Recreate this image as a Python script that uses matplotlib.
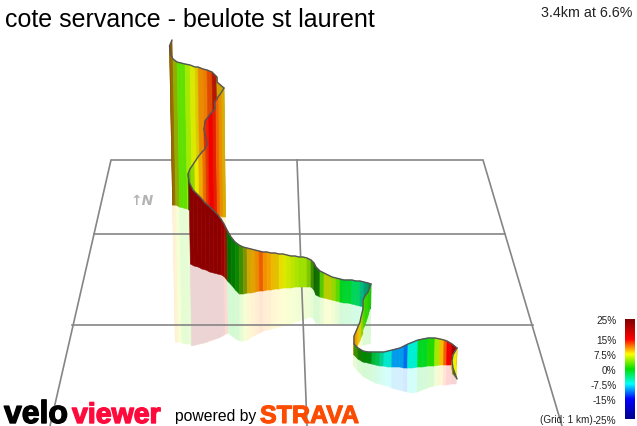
import numpy as np
import matplotlib
matplotlib.use('Agg')
import matplotlib.pyplot as plt
import matplotlib.patheffects as pe
from matplotlib.collections import PolyCollection
from matplotlib.colors import LinearSegmentedColormap, Normalize

# chart text
title = 'cote servance - beulote st laurent'
summary = '3.4km at 6.6%'
grid_note = '(Grid: 1 km)'

# gradient scale
scale_ticks = [25, 15, 7.5, 0, -7.5, -15, -25]
scale_labels = ['25%', '15%', '7.5%', '0%', '-7.5%', '-15%', '-25%']
scale_grades = [-25, -15, -7.5, 0, 7.5, 15, 25]
scale_colors = ['#00008b', '#0000ff', '#00ffff', '#00e000', '#ffff00', '#ff0000', '#800000']

# ground grid
grid_x = [[50, 111, 483, 562], [94, 505], [72, 533], [297, 307]]
grid_y = [[427, 161, 161, 427], [235, 235], [326, 326], [161, 427]]

# ribbon pieces, back to front: screen x, top edge, foot of wall, foot of reflection
s1_x = [172, 169.5, 170.5, 173, 177, 181, 185, 190, 195, 198, 203, 207, 212, 217, 217, 224]
s1_top = [41, 47, 55, 60, 63, 64, 65, 66, 68, 68, 70, 71, 73, 78, 83, 89]
s1_base = [206, 206, 206, 206, 208, 209, 210, 210, 211, 212, 213, 214, 215, 216, 216, 218]
s1_ground = [343, 343, 343, 343, 344, 345, 345, 345, 345, 345, 343, 342, 340, 338, 338, 335]
s1_grade = [10, 10, 9.5, 6, 3, 3, 5, 7, 8, 10.5, 11, 12.5, 14, 9, 9]
s1_shade = [.55, .55, .6, .7, .95, .95, .95, .92, .85, .92, .92, .88, .7, .8, .8]

s2_x = [224, 221, 218, 215, 215, 212, 208, 205, 204]
s2_top = [89, 94, 98, 103, 110, 113, 118, 122, 130]
s2_base = [218, 218, 217, 217, 216, 216, 215, 214, 214]
s2_ground = [335, 335, 336, 336, 337, 338, 339, 340, 340]
s2_grade = [9, 10.5, 12, 13, 14, 15, 14, 13]
s2_shade = [.85, .92, .95, .9, .9, .95, .95, .9]

s3_x = [204, 207, 205, 202, 198, 194, 190, 188, 189]
s3_top = [130, 145, 150, 153, 158, 164, 170, 175, 182]
s3_base = [214, 214, 213, 213, 212, 212, 211, 211, 211]
s3_ground = [340, 340, 341, 342, 343, 344, 345, 346, 346]
s3_grade = [13.5, 13, 11.5, 9.5, 7.5, 5, 3, 2]
s3_shade = [.9, .9, .92, .92, .92, .88, .8, .5]

s4_x = [189, 193, 197, 201, 205, 209, 213, 217, 221, 224, 227, 231, 235, 239, 243, 247, 251,
        255, 259, 263, 267, 271, 275, 279, 283, 287, 291, 295, 299, 303, 307, 311, 314, 316,
        320, 324, 328, 332, 336, 340, 344, 348, 352, 356, 360, 364, 368, 371]
s4_top = [183, 191, 195, 199, 204, 207, 211, 215, 220, 225, 231, 238, 243, 246, 248, 249, 250,
          251, 252, 253, 253, 254, 254, 255, 255, 256, 257, 257, 258, 258, 259, 261, 264, 268,
          272, 274, 276, 278, 279, 280, 281, 281, 281, 282, 282, 283, 284, 285]
s4_base = [265, 267, 268, 270, 271, 273, 274, 275, 276, 278, 282, 286, 291, 295, 295, 294, 294,
           293, 292, 292, 291, 291, 290, 290, 289, 289, 289, 288, 288, 288, 288, 288, 291, 296,
           298, 299, 300, 301, 302, 303, 304, 304, 305, 306, 307, 308, 309, 310]
s4_ground = [347, 346, 345, 344, 343, 341, 340, 339, 337, 335, 334, 337, 340, 342, 342, 341, 338,
             336, 334, 332, 331, 330, 329, 328, 327, 326, 325, 323, 322, 321, 319, 318, 320, 324,
             325, 325, 325, 325, 325, 325, 325, 325, 325, 327, 329, 332, 336, 338]
s4_grade = [23.5, 24, 23.5, 24, 23.5, 24, 23.5, 24, 22, 14, 0, 0, .5, 3, 6, 9, 9.5, 10.5, 12, 10.5, 10, 9,
            8.5, 8, 7, 6.5, 6, 5.5, 5, 5, 4.5, 3, 1, 1, 3, 6.5, 6.5, 5, 3, -1, -1.5, -1.5, -3, -3,
            -5, -5, -4]
s4_shade = [.95, 1, .97, 1, .97, 1, .97, 1, .95, .6, .5, .55, .6, .6, .6, .82, .88, .92, .92, .95, .95,
            .92, .88, .92, .92, .92, .92, .92, .92, .92, .82, .6, .45, .5, .85, .82, .82, .88, .92, .92, .92, .92, .9, .9,
            .75, .65, .6]

s5_x = [371, 368, 365, 363, 363, 361, 360, 357, 354, 354]
s5_top = [285, 293, 297, 301, 310, 318, 323, 330, 337, 345]
s5_base = [306, 318, 327, 331, 335, 339, 342, 348, 352, 356]
s5_ground = [345, 345, 346, 346, 346, 347, 348, 352, 358, 367]
s5_grade = [1, 1.5, 2, 3, 5, 7, 8.5, 10, 10]
s5_shade = [.9, .92, .92, .9, .85, .85, .9, .92, .9]

s6_x = [354, 358, 363, 368, 372, 376, 380, 384, 388, 392, 396, 400, 404, 408, 413, 418, 423, 428,
        435, 440, 444, 447, 452, 457]
s6_top = [345, 349, 352, 353, 353, 353, 353, 353, 352, 351, 350, 349, 347, 345, 343, 341, 340, 339,
          339, 340, 341, 342, 345, 349]
s6_base = [356, 360, 363, 364, 365, 366, 367, 367, 368, 368, 368, 368, 369, 369, 369, 368, 368, 367,
           367, 366, 366, 366, 366, 366]
s6_ground = [367, 372, 377, 380, 382, 384, 385, 386, 387, 389, 390, 391, 392, 393, 394, 393, 391, 389,
             387, 386, 386, 386, 385, 385]
s6_grade = [3, 1, 0, -.5, -2, -3, -5, -6.5, -6.5, -10, -10, -10, -11.5, -6.5, -6.5, -1, -1, 1, 5, 9,
            12, 15, 20]
s6_shade = [.6, .55, .6, .6, .8, .82, .85, .92, .92, .92, .92, .92, .92, .95, .95, .95, .95, .95, .95,
            .95, .95, .95, .85]

s7_x = [457, 453, 452, 453, 457]
s7_top = [349, 356, 362, 369, 380]
s7_base = [376, 372, 370, 375, 380]
s7_grade = [7.5, 8, 8, 6]
s7_shade = [.95, .85, .7, .45]

ribbon = [
    (s1_x, s1_top, s1_base, s1_ground, s1_grade, s1_shade),
    (s2_x, s2_top, s2_base, s2_ground, s2_grade, s2_shade),
    (s3_x, s3_top, s3_base, s3_ground, s3_grade, s3_shade),
    (s4_x, s4_top, s4_base, s4_ground, s4_grade, s4_shade),
    (s5_x, s5_top, s5_base, s5_ground, s5_grade, s5_shade),
    (s6_x, s6_top, s6_base, s6_ground, s6_grade, s6_shade),
    (s7_x, s7_top, s7_base, s7_base, s7_grade, s7_shade),
]

grade_norm = Normalize(-25, 25)
grade_cmap = LinearSegmentedColormap.from_list(
    'grade', [(grade_norm(g), c) for g, c in zip(scale_grades, scale_colors)], N=512)


def lean(x, dy):
    # walls lean slightly towards the middle of the view
    return np.asarray(x, float) + (300 - np.asarray(x, float)) * 0.00015 * np.asarray(dy, float)


def quads(x1, y1, x2, y2):
    return [[(x1[i], y1[i]), (x1[i + 1], y1[i + 1]), (x2[i + 1], y2[i + 1]), (x2[i], y2[i])]
            for i in range(len(x1) - 1)]


def piece_colors(grade, shade):
    rgb = grade_cmap(grade_norm(np.asarray(grade, float)))[:, :3]
    return rgb * np.asarray(shade, float)[:, None]


fig = plt.figure(figsize=(6.37, 4.27), dpi=100)
ax = fig.add_axes([0, 0, 1, 1])
ax.set_xlim(0, 637)
ax.set_ylim(427, 0)
ax.axis('off')

# pale reflection, mixed with white so the pieces do not show seams
for x, top, base, ground, grade, shade in ribbon:
    base_x = lean(x, np.subtract(base, top))
    ground_x = lean(x, np.subtract(ground, top))
    pale = grade_cmap(grade_norm(np.asarray(grade, float)))[:, :3] * 0.17 + 0.83
    ax.add_collection(PolyCollection(quads(base_x, base, ground_x, ground), facecolors=pale,
                                     edgecolors=pale, linewidths=0.4, zorder=1))

# grid shows through the reflection
for gx, gy in zip(grid_x, grid_y):
    ax.plot(gx, gy, color='#858585', lw=1.2, zorder=2, solid_joinstyle='miter')

z = 3
for x, top, base, ground, grade, shade in ribbon:
    base_x = lean(x, np.subtract(base, top))
    colors = piece_colors(grade, shade)
    ax.add_collection(PolyCollection(quads(x, top, base_x, base), facecolors=colors,
                                     edgecolors=colors, linewidths=0.4, zorder=z))
    ax.plot(x, top, color='#555555', lw=1.0, zorder=z + 0.5, solid_capstyle='round')
    z += 1

ax.text(5, 27, title, fontsize=18, family='Liberation Sans', color='black', va='baseline')
ax.text(632, 17, summary, fontsize=10.3, family='Liberation Sans', color='#222222', ha='right', va='baseline')
ax.text(142, 201, '\u2191N', fontsize=10, family='DejaVu Sans', style='italic',
        fontweight='bold', color='#b4b4b4', ha='center', va='center')

# logos
ax.text(4, 424, 'velo', fontsize=23, family='Liberation Sans', fontweight='bold', color='black',
        va='baseline', path_effects=[pe.withStroke(linewidth=1.0, foreground='#000000')])
ax.text(72, 424, 'viewer', fontsize=20.5, family='Liberation Sans', fontweight='bold', color='#ff0a3c',
        va='baseline', path_effects=[pe.withStroke(linewidth=1.0, foreground='#ff0a3c')])
ax.text(175, 421, 'powered by', fontsize=11.3, family='Liberation Sans', color='black', va='baseline')
ax.text(260, 424, 'STRAVA', fontsize=18, family='Liberation Sans', fontweight='bold', color='#fc4c02',
        va='baseline', path_effects=[pe.withStroke(linewidth=0.8, foreground='#fc4c02')])

ax.text(540, 420, grid_note, fontsize=7.2, family='Liberation Sans', color='#222222', va='center')

# gradient scale bar
cax = fig.add_axes([625 / 637, 1 - 420 / 427, 10 / 637, 100 / 427])
cax.imshow(np.linspace(25, -25, 256)[:, None], cmap=grade_cmap, norm=grade_norm, aspect='auto',
           extent=[0, 1, -25, 25])
cax.set_xticks([])
cax.yaxis.set_ticks(scale_ticks, labels=scale_labels)
cax.tick_params(axis='y', length=0, pad=6, labelsize=7.2, labelcolor='#222222')
for lab in cax.get_yticklabels():
    lab.set_family('Liberation Sans')
for s in cax.spines.values():
    s.set_visible(False)

plt.savefig('out.png', dpi=100)
plt.close()
